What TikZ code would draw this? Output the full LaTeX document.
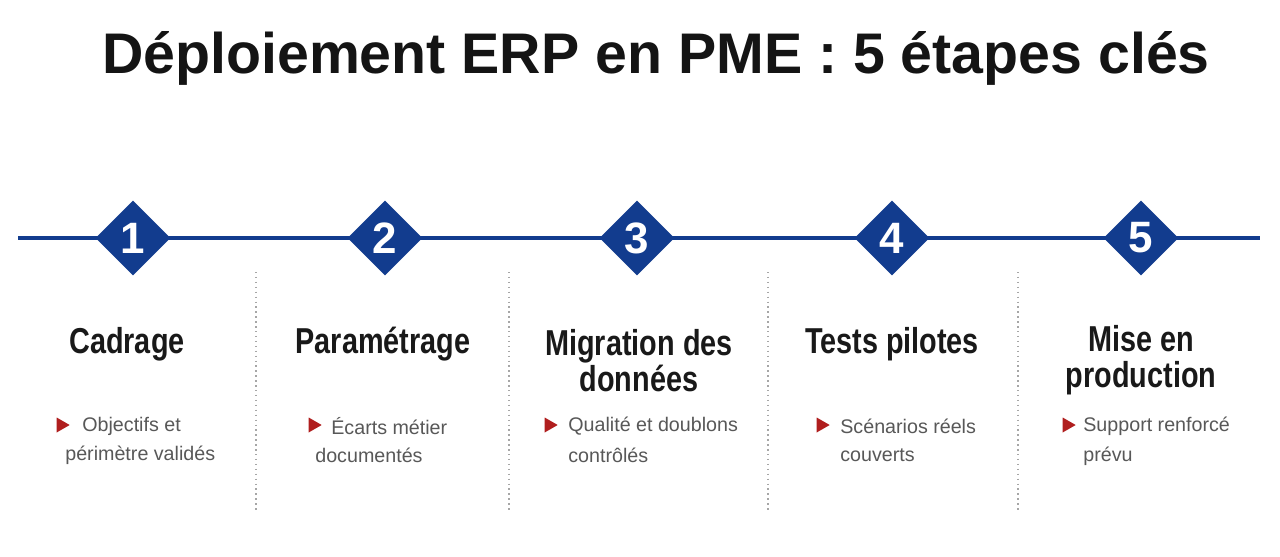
\documentclass[tikz,border=0pt]{standalone}
\usepackage{fontspec}
\setmainfont{Liberation Sans}
\newfontfamily\headfont[FakeStretch=0.8]{Liberation Sans Bold}
\newfontfamily\titlefont{Liberation Sans Bold}
\usetikzlibrary{shapes.geometric}
\definecolor{navy}{HTML}{123C8E}
\definecolor{bulletred}{HTML}{B01E1E}
\definecolor{bodygray}{HTML}{585858}

\begin{document}
\begin{tikzpicture}[x = 0.02cm, y = -0.02cm,
                    stepmark/.style = {diamond, fill = navy, minimum size = 1.5cm, inner sep = 0pt,
                                       text = white, font = \titlefont\fontsize{25}{25}\selectfont},
                    heading/.style = {font = \headfont\fontsize{20.5}{20.5}\selectfont, text = black!90, align = center},
                    bodyline/.style = {anchor = west, inner sep = 0pt, text = bodygray, font = \fontsize{11.2}{11.2}\selectfont},
                    tri/.style = {isosceles triangle, isosceles triangle apex angle = 60, fill = bulletred,
                                  inner sep = 0pt, minimum height = 0.26cm},
                    sep/.style = {draw = black!35, dotted, line width = 0.8pt}]
  \useasboundingbox [fill = white] (0, 0) rectangle (1280, 557);
  \node [font = \titlefont\fontsize{32.6}{32.6}\selectfont, text = black!92] (title) at (656, 58) {Déploiement ERP en PME : 5 étapes clés};

  % timeline
  \coordinate (lstart) at (18, 238);
  \coordinate (lend) at (1260, 238);
  \draw [navy, line width = 2.4pt] (lstart) -- (lend);
  \node [stepmark] (s1) at (133, 238) {1};
  \node [stepmark] (s2) at (385, 238) {2};
  \node [stepmark] (s3) at (637, 238) {3};
  \node [stepmark] (s4) at (892, 238) {4};
  \node [stepmark] (s5) at (1141, 238) {5};

  % separators
  \draw [sep] (256, 272) -- (256, 512);
  \draw [sep] (509, 272) -- (509, 512);
  \draw [sep] (768, 272) -- (768, 512);
  \draw [sep] (1018, 272) -- (1018, 512);

  % headings
  \node [heading] (h1) at (127, 344) {Cadrage};
  \node [heading] (h2) at (383, 344) {Paramétrage};
  \node [heading] (h3) at (639, 361) {Migration des\\données};
  \node [heading] (h4) at (892, 344) {Tests pilotes};
  \node [heading] (h5) at (1141, 360) {Mise en\\production};

  % details
  \node [tri] (b1) at (61, 425) {};   \node [bodyline] (t1a) at (82, 426) {Objectifs et};
                                      \node [bodyline] (t1b) at (65, 455) {périmètre validés};
  \node [tri] (b2) at (313, 425) {};  \node [bodyline] (t2a) at (331, 426) {Écarts métier};
                                      \node [bodyline] (t2b) at (315, 455) {documentés};
  \node [tri] (b3) at (549, 425) {};  \node [bodyline] (t3a) at (568, 426) {Qualité et doublons};
                                      \node [bodyline] (t3b) at (568, 455) {contrôlés};
  \node [tri] (b4) at (821, 425) {};  \node [bodyline] (t4a) at (840, 426) {Scénarios réels};
                                      \node [bodyline] (t4b) at (840, 455) {couverts};
  \node [tri] (b5) at (1067, 425) {}; \node [bodyline] (t5a) at (1083, 426) {Support renforcé};
                                      \node [bodyline] (t5b) at (1083, 456) {prévu};
\end{tikzpicture}
\end{document}
